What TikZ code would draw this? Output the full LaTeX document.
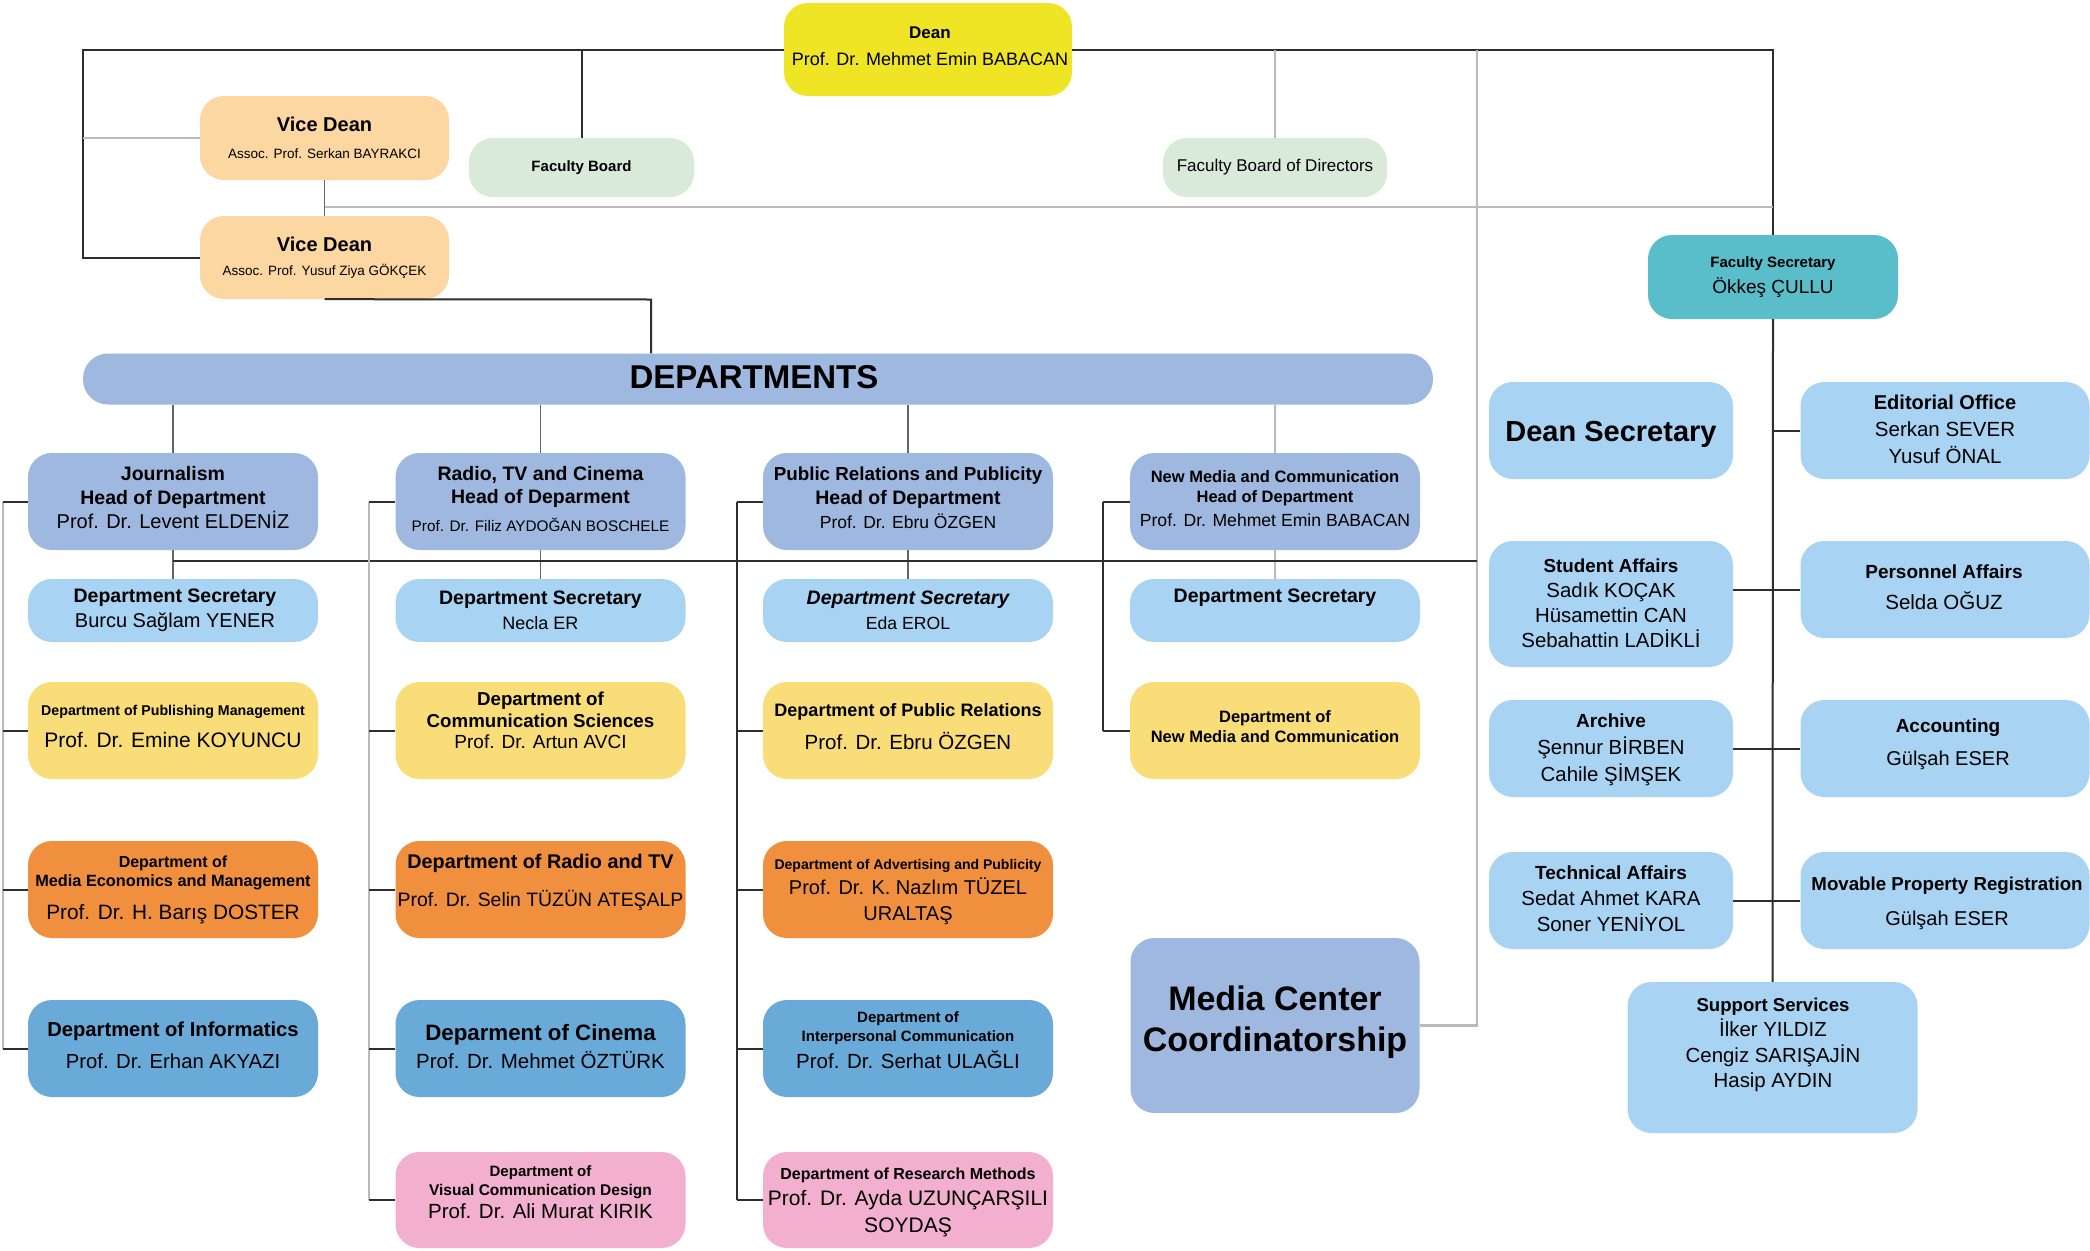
\documentclass[tikz,border=0pt]{standalone}
\usepackage{fontspec}
\setmainfont{Liberation Sans}
\usetikzlibrary{calc}
\newcommand{\myfs}[2]{\fontsize{#1}{#2}\selectfont}
\newcommand{\bt}[2]{{\bfseries\fontsize{#1}{#1}\selectfont #2}}
\definecolor{cDean}{HTML}{F0E524}
\definecolor{cVice}{HTML}{FCD7A1}
\definecolor{cGreen}{HTML}{D9EAD9}
\definecolor{cTeal}{HTML}{59BEC9}
\definecolor{cPeri}{HTML}{9FB8E0}
\definecolor{cLB}{HTML}{A9D3F2}
\definecolor{cYel}{HTML}{F9DD78}
\definecolor{cOra}{HTML}{F0903E}
\definecolor{cBlu}{HTML}{6AAAD9}
\definecolor{cPink}{HTML}{F2AFCE}
\newcommand{\mkbox}[6]{\node[bx, fill=#2, minimum width=#5pt, minimum height=#6pt] (#1) at (#3,#4) {};}
\begin{document}
\begin{tikzpicture}[x=1pt,y=-1pt,
  bx/.style={rounded corners=24pt, inner sep=0pt, draw=none},
  tx/.style={align=center, inner sep=0pt, text=black},
  blk/.style={draw=black!82, line width=2pt},
  mid/.style={draw=black!60, line width=1.6pt},
  gry/.style={draw=black!27, line width=2.2pt}]
\useasboundingbox[fill=white] (0,0) rectangle (2090,1250);

% ---------- boxes ----------
\mkbox{dean}{cDean}{928}{49.5}{288}{93}
\mkbox{vd1}{cVice}{324.5}{138}{249}{84}
\mkbox{vd2}{cVice}{324.5}{257.5}{249}{83}
\mkbox{fb}{cGreen}{581.5}{167.5}{225}{59}
\mkbox{fbd}{cGreen}{1275}{167.5}{224}{59}
\mkbox{fsec}{cTeal}{1773}{277}{250}{84}
\node[bx, rounded corners=25pt, fill=cPeri, minimum width=1350pt, minimum height=51pt] (depts) at (758,379) {};

\mkbox{h1}{cPeri}{173}{501.5}{290}{97}
\mkbox{h2}{cPeri}{540.5}{501.5}{290}{97}
\mkbox{h3}{cPeri}{908}{501.5}{290}{97}
\mkbox{h4}{cPeri}{1275}{501.5}{290}{97}

\mkbox{s1}{cLB}{173}{610.5}{290}{63}
\mkbox{s2}{cLB}{540.5}{610.5}{290}{63}
\mkbox{s3}{cLB}{908}{610.5}{290}{63}
\mkbox{s4}{cLB}{1275}{610.5}{290}{63}

\mkbox{y1}{cYel}{173}{730.5}{290}{97}
\mkbox{y2}{cYel}{540.5}{730.5}{290}{97}
\mkbox{y3}{cYel}{908}{730.5}{290}{97}
\mkbox{y4}{cYel}{1275}{730.5}{290}{97}

\mkbox{o1}{cOra}{173}{889.5}{290}{97}
\mkbox{o2}{cOra}{540.5}{889.5}{290}{97}
\mkbox{o3}{cOra}{908}{889.5}{290}{97}

\mkbox{b1}{cBlu}{173}{1048.5}{290}{97}
\mkbox{b2}{cBlu}{540.5}{1048.5}{290}{97}
\mkbox{b3}{cBlu}{908}{1048.5}{290}{97}

\mkbox{p2}{cPink}{540.5}{1200}{290}{96}
\mkbox{p3}{cPink}{908}{1200}{290}{96}

\mkbox{mc}{cPeri}{1275}{1025.5}{289}{175}

\mkbox{ds}{cLB}{1611}{430.5}{244}{97}
\mkbox{eo}{cLB}{1945}{430.5}{289}{97}
\mkbox{sa}{cLB}{1611}{604}{244}{126}
\mkbox{pa}{cLB}{1945}{589.5}{289}{97}
\mkbox{ar}{cLB}{1611}{748.5}{244}{97}
\mkbox{ac}{cLB}{1945}{748.5}{289}{97}
\mkbox{ta}{cLB}{1611}{900.5}{244}{97}
\mkbox{mp}{cLB}{1945}{900.5}{289}{97}
\mkbox{ss}{cLB}{1772.5}{1057.5}{290}{151}

% ---------- texts ----------
\node[tx, font=\myfs{18}{27}] (dean-t) at (930,46) {\bt{17}{Dean}\\Prof. Dr. Mehmet Emin BABACAN};
\node[tx, font=\myfs{13.5}{27}] (vd1-t) at (324.5,138) {\bt{20}{Vice Dean}\\Assoc. Prof. Serkan BAYRAKCI};
\node[tx, font=\myfs{13.5}{24}] (vd2-t) at (324.5,257.5) {\bt{20}{Vice Dean}\\Assoc. Prof. Yusuf Ziya GÖKÇEK};
\node[tx, font=\bfseries\myfs{15}{18}] (fb-t) at (581.5,167.5) {Faculty Board};
\node[tx, font=\myfs{17}{20}] (fbd-t) at (1275,167.5) {Faculty Board of Directors};
\node[tx, font=\myfs{19}{26}] (fsec-t) at (1773,277) {\bt{15}{Faculty Secretary}\\Ökkeş ÇULLU};
\node[tx, font=\bfseries\myfs{33}{36}] (depts-t) at (754,377) {DEPARTMENTS};

\node[tx, font=\myfs{20}{24}] (h1-t) at (173,498) {\bt{19.5}{Journalism}\\\bt{19.5}{Head of Department}\\Prof. Dr. Levent ELDENİZ};
\node[tx, font=\myfs{15.3}{23}] (h2-t) at (540.5,499) {\bt{19.5}{Radio, TV and Cinema}\\\bt{19.5}{Head of Deparment}\\[5pt]Prof. Dr. Filiz AYDOĞAN BOSCHELE};
\node[tx, font=\myfs{17.5}{24}] (h3-t) at (908,498) {\bt{18.8}{Public Relations and Publicity}\\\bt{19.5}{Head of Department}\\Prof. Dr. Ebru ÖZGEN};
\node[tx, font=\myfs{17.6}{20}] (h4-t) at (1275,498.5) {\bt{16.5}{New Media and Communication}\\\bt{16.5}{Head of Department}\\[4pt]Prof. Dr. Mehmet Emin BABACAN};

\node[tx, font=\myfs{20}{25.5}] (s1-t) at (175,610.5) {\bt{19.5}{Department Secretary}\\Burcu Sağlam YENER};
\node[tx, font=\myfs{18}{25.5}] (s2-t) at (540.5,610.5) {\bt{19.5}{Department Secretary}\\Necla ER};
\node[tx, font=\myfs{17.6}{25.5}] (s3-t) at (908,610.5) {{\bfseries\itshape\myfs{19.5}{19.5}Department Secretary}\\Eda EROL};
\node[tx, font=\bfseries\myfs{19.5}{22}] (s4-t) at (1275,597.5) {Department Secretary};

\node[tx, font=\myfs{21}{32}] (y1-t) at (173,726) {\bt{14.2}{Department of Publishing Management}\\Prof. Dr. Emine KOYUNCU};
\node[tx, font=\myfs{19}{21.5}] (y2-t) at (540.5,720.5) {\bt{18.7}{Department of}\\\bt{18.7}{Communication Sciences}\\Prof. Dr. Artun AVCI};
\node[tx, font=\myfs{20.5}{33}] (y3-t) at (908,726.5) {\bt{18}{Department of Public Relations}\\Prof. Dr. Ebru ÖZGEN};
\node[tx, font=\bfseries\myfs{16.5}{20}] (y4-t) at (1275,727) {Department of\\New Media and Communication};

\node[tx, font=\myfs{20.8}{19}] (o1-t) at (173,890) {\bt{16}{Department of}\\\bt{16.3}{Media Economics and Management}\\[14pt]Prof. Dr. H. Barış DOSTER};
\node[tx, font=\myfs{19.4}{38}] (o2-t) at (540.5,882.5) {\bt{19.8}{Department of Radio and TV}\\Prof. Dr. Selin TÜZÜN ATEŞALP};
\node[tx, font=\myfs{20}{25.5}] (o3-t) at (908,892) {\bt{14}{Department of Advertising and Publicity}\\Prof. Dr. K. Nazlım TÜZEL\\URALTAŞ};

\node[tx, font=\myfs{20.3}{32}] (b1-t) at (173,1045) {\bt{20.2}{Department of Informatics}\\Prof. Dr. Erhan AKYAZI};
\node[tx, font=\myfs{20.5}{28}] (b2-t) at (540.5,1047) {\bt{22.3}{Deparment of Cinema}\\Prof. Dr. Mehmet ÖZTÜRK};
\node[tx, font=\myfs{20.5}{19}] (b3-t) at (908,1040) {\bt{15}{Department of}\\\bt{15}{Interpersonal Communication}\\[5pt]Prof. Dr. Serhat ULAĞLI};

\node[tx, font=\myfs{20.5}{19}] (p2-t) at (540.5,1192) {\bt{15}{Department of}\\\bt{15.5}{Visual Communication Design}\\[4pt]Prof. Dr. Ali Murat KIRIK};
\node[tx, font=\myfs{21}{26.5}] (p3-t) at (908,1202) {\bt{16}{Department of Research Methods}\\Prof. Dr. Ayda UZUNÇARŞILI\\SOYDAŞ};

\node[tx, font=\bfseries\myfs{34}{41}] (mc-t) at (1275,1022) {Media Center\\Coordinatorship};

\node[tx, font=\bfseries\myfs{29}{32}] (ds-t) at (1611,434) {Dean Secretary};
\node[tx, font=\myfs{20.5}{27}] (eo-t) at (1945,429) {\bt{20}{Editorial Office}\\Serkan SEVER\\Yusuf ÖNAL};
\node[tx, font=\myfs{20.4}{25}] (sa-t) at (1611,603.5) {\bt{18.8}{Student Affairs}\\Sadık KOÇAK\\Hüsamettin CAN\\Sebahattin LADİKLİ};
\node[tx, font=\myfs{20.5}{30.5}] (pa-t) at (1944,587) {\bt{19}{Personnel Affairs}\\Selda OĞUZ};
\node[tx, font=\myfs{20.4}{27}] (ar-t) at (1611,749.5) {\bt{19}{Archive}\\Şennur BİRBEN\\Cahile ŞİMŞEK};
\node[tx, font=\myfs{20}{33}] (ac-t) at (1948,744) {\bt{19}{Accounting}\\Gülşah ESER};
\node[tx, font=\myfs{20.4}{26}] (ta-t) at (1611,899) {\bt{19}{Technical Affairs}\\Sedat Ahmet KARA\\Soner YENİYOL};
\node[tx, font=\myfs{20}{35}] (mp-t) at (1947,903.5) {\bt{18.7}{Movable Property Registration}\\Gülşah ESER};
\node[tx, font=\myfs{20.4}{25.5}] (ss-t) at (1773,1045) {\bt{18.6}{Support Services}\\İlker YILDIZ\\Cengiz SARIŞAJİN\\Hasip AYDIN};

% ---------- connectors ----------
\coordinate (tl) at (83,49.5);
\coordinate (mcTop) at (1477,49.5);
\coordinate (gL) at (324.5,207);
\coordinate (gR) at (1773,207);
\coordinate (dj) at (651,299.5);
\coordinate (secL) at (173,561);
\coordinate (secR) at (1477,561);
\coordinate (k1) at (3,0);
\coordinate (k2) at (369,0);
\coordinate (k3) at (736.5,0);
\coordinate (k4) at (1103,0);

\draw[blk] (dean.west) -- (tl) |- (vd2.west);
\draw[gry] (vd1.west) -- (vd1.west -| tl);
\draw[blk] (dean.east) -| (fsec.north);
\draw[blk] (fb.north) -- (fb.north |- dean.west);
\draw[gry] (fbd.north) -- (fbd.north |- dean.east);
\draw[gry] (mc.east) -| (mcTop);
\draw[mid] (vd1.south) -- (vd2.north);
\draw[gry] (gL) -- (gR);
\draw[blk] (vd2.south) -- (dj) -- (dj |- depts.north);

\draw[mid] (depts.south -| h1.north) -- (h1.north);
\draw[mid] (depts.south -| h2.north) -- (h2.north);
\draw[mid] (depts.south -| h3.north) -- (h3.north);
\draw[gry] (depts.south -| h4.north) -- (h4.north);

\draw[mid] (h1.south) -- (s1.north);
\draw[mid] (h2.south) -- (s2.north);
\draw[mid] (h3.south) -- (s3.north);
\draw[gry] (h4.south) -- (s4.north);
\draw[blk] (secL) -- (secR);

% column 1 bracket
\draw[gry] (h1.west -| k1) -- (b1.west -| k1);
\draw[blk] (h1.west) -- (h1.west -| k1);
\draw[blk] (y1.west) -- (y1.west -| k1);
\draw[blk] (o1.west) -- (o1.west -| k1);
\draw[blk] (b1.west) -- (b1.west -| k1);
% column 2 bracket
\draw[gry] (h2.west -| k2) -- (p2.west -| k2);
\draw[blk] (h2.west) -- (h2.west -| k2);
\draw[blk] (y2.west) -- (y2.west -| k2);
\draw[blk] (o2.west) -- (o2.west -| k2);
\draw[blk] (b2.west) -- (b2.west -| k2);
\draw[blk] (p2.west) -- (p2.west -| k2);
% column 3 bracket
\draw[blk] (h3.west -| k3) -- (p3.west -| k3);
\draw[blk] (h3.west) -- (h3.west -| k3);
\draw[blk] (y3.west) -- (y3.west -| k3);
\draw[blk] (o3.west) -- (o3.west -| k3);
\draw[blk] (b3.west) -- (b3.west -| k3);
\draw[blk] (p3.west) -- (p3.west -| k3);
% column 4 bracket
\draw[blk] (h4.west -| k4) -- (y4.west -| k4);
\draw[blk] (h4.west) -- (h4.west -| k4);
\draw[blk] (y4.west) -- (y4.west -| k4);

% right side
\draw[blk] (fsec.south) -- (ss.north);
\draw[blk] (eo.west) -- (eo.west -| fsec.south);
\draw[blk] (pa.west) -- (pa.west -| sa.east);
\draw[blk] (ac.west) -- (ar.east);
\draw[blk] (mp.west) -- (ta.east);
\end{tikzpicture}
\end{document}
